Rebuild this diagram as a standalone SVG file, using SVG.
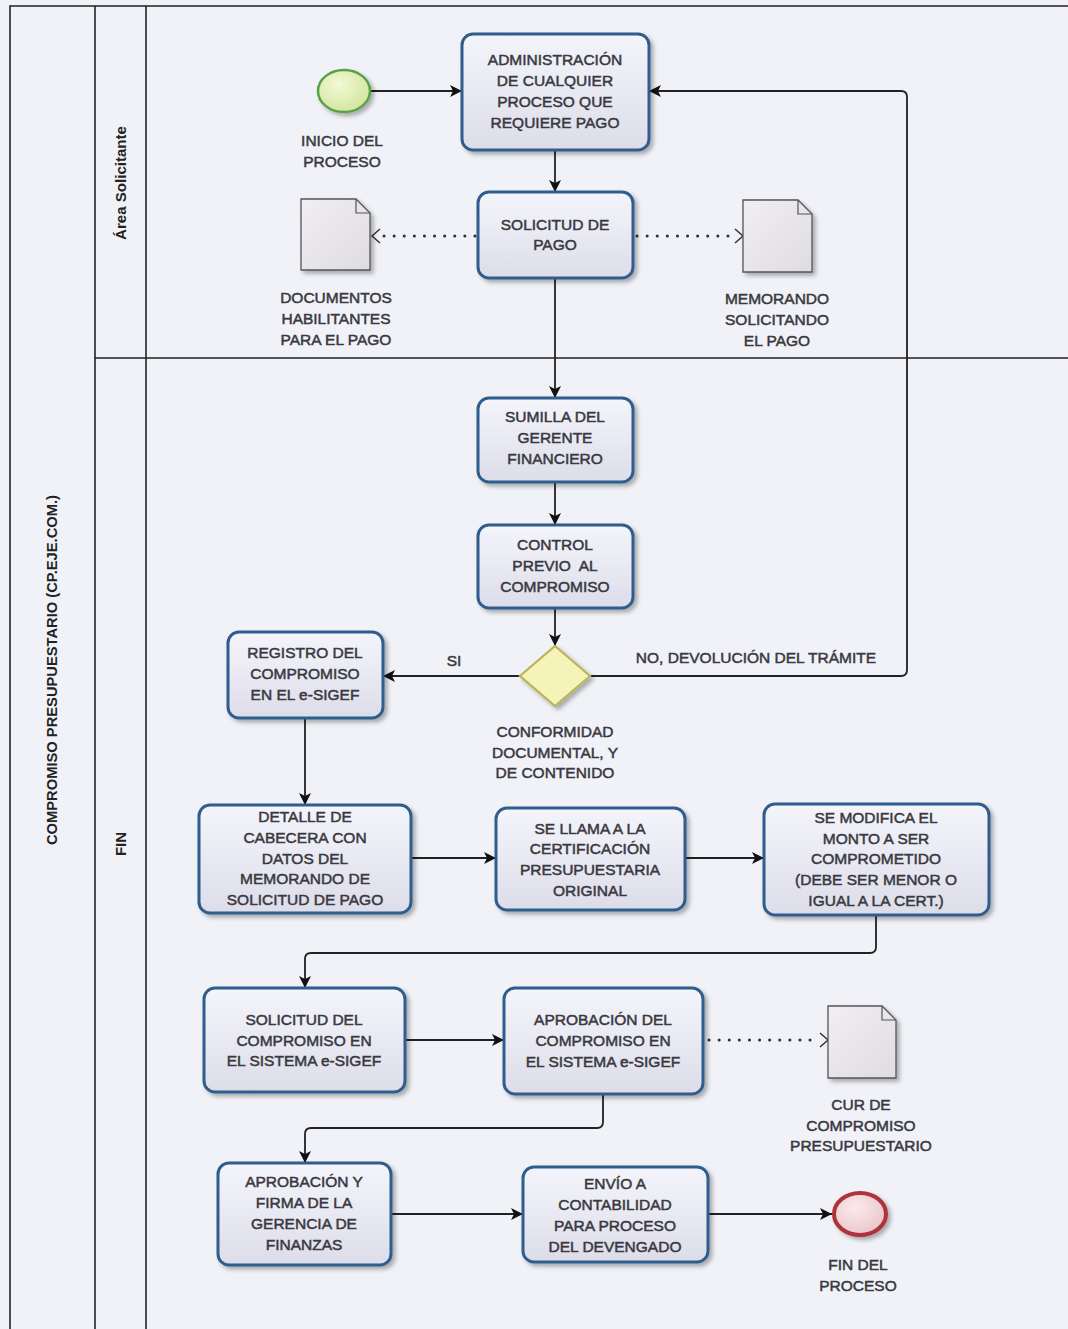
<svg xmlns="http://www.w3.org/2000/svg" width="1068" height="1329" viewBox="0 0 1068 1329">
<defs>
<linearGradient id="tg" x1="0" y1="0" x2="0" y2="1"><stop offset="0" stop-color="#f4f5fb"/><stop offset="1" stop-color="#dcdde9"/></linearGradient>
<linearGradient id="dg" x1="0" y1="0" x2="1" y2="1"><stop offset="0" stop-color="#f2eff3"/><stop offset="1" stop-color="#dedbe2"/></linearGradient>
<radialGradient id="sg" cx="0.4" cy="0.35" r="0.7"><stop offset="0" stop-color="#f4f9d8"/><stop offset="1" stop-color="#cfe59a"/></radialGradient>
<radialGradient id="eg" cx="0.4" cy="0.35" r="0.7"><stop offset="0" stop-color="#fbeaec"/><stop offset="1" stop-color="#e9c4c8"/></radialGradient>
<filter id="sh" x="-10%" y="-10%" width="130%" height="130%"><feDropShadow dx="3" dy="3" stdDeviation="2" flood-color="#000" flood-opacity="0.3"/></filter>
<marker id="ar" viewBox="0 0 12 12" refX="12" refY="6" markerWidth="12" markerHeight="12" markerUnits="userSpaceOnUse" orient="auto"><path d="M0,0 L12,6 L0,12 L3,6 Z" fill="#111"/></marker>
<style>
.t{font-family:"Liberation Sans",Arial,sans-serif;font-size:15.5px;fill:#3a3840;text-anchor:middle;stroke:#3a3840;stroke-width:0.5}
.task{fill:url(#tg);stroke:#2f5d8e;stroke-width:3;filter:url(#sh)}
.doc{fill:url(#dg);stroke:#555;stroke-width:1.3;filter:url(#sh)}
.ln{fill:none;stroke:#222;stroke-width:1.6}
.fl{fill:none;stroke:#222;stroke-width:1.8;marker-end:url(#ar)}
.dt{fill:none;stroke:#333;stroke-width:3;stroke-dasharray:0.1 10;stroke-linecap:round}
.ch{fill:none;stroke:#333;stroke-width:1.5}
.lb{font-family:"Liberation Sans",Arial,sans-serif;font-weight:bold;fill:#222;text-anchor:middle}
</style>
</defs>
<rect width="1068" height="1329" fill="#f0f2f7"/>
<g id="pool">
<path class="ln" d="M10,1329 V6 H1068 M95,6 V1329 M146,6 V1329 M95,358 H1068"/>
<text class="lb" font-size="15" transform="translate(57,670) rotate(-90)" textLength="350" lengthAdjust="spacingAndGlyphs">COMPROMISO PRESUPUESTARIO (CP.EJE.COM.)</text>
<text class="lb" font-size="15" transform="translate(126,183) rotate(-90)" textLength="114" lengthAdjust="spacingAndGlyphs">Área Solicitante</text>
<text class="lb" font-size="15" transform="translate(126,844) rotate(-90)">FIN</text>
</g>
<g id="connectors">
<path class="fl" d="M371,91 H462"/>
<path class="fl" d="M555,150 V192"/>
<path class="fl" d="M555,278 V398"/>
<path class="fl" d="M555,482 V525"/>
<path class="fl" d="M555,608 V646"/>
<path class="fl" d="M520,676 H383"/>
<path class="fl" d="M590,676 H901 Q907,676 907,670 V97 Q907,91 901,91 H649"/>
<path class="fl" d="M305,718 V805"/>
<path class="fl" d="M411,858 H496"/>
<path class="fl" d="M685,858 H764"/>
<path class="fl" d="M876,915 V947 Q876,953 870,953 H311 Q305,953 305,959 V988"/>
<path class="fl" d="M405,1040 H504"/>
<path class="fl" d="M603,1094 V1122 Q603,1128 597,1128 H311 Q305,1128 305,1134 V1163"/>
<path class="fl" d="M391,1214 H523"/>
<path class="fl" d="M708,1214 H832"/>
<path class="dt" d="M475,236 H378"/>
<path class="ch" d="M380,229 L372,236 L380,243"/>
<path class="dt" d="M637,236 H736"/>
<path class="ch" d="M735,229 L743,236 L735,243"/>
<path class="dt" d="M709,1040 H820"/>
<path class="ch" d="M820,1033 L828,1040 L820,1047"/>
<text class="t" x="454" y="666">SI</text>
<text class="t" x="756" y="663">NO, DEVOLUCIÓN DEL TRÁMITE</text>
</g>
<g id="start">
<ellipse cx="344" cy="91" rx="26" ry="21" fill="url(#sg)" stroke="#5aa04a" stroke-width="2.5" filter="url(#sh)"/>
<text class="t" x="342" y="146">INICIO DEL</text><text class="t" x="342" y="167">PROCESO</text>
</g>
<g id="t1">
<rect class="task" x="462" y="34" width="187" height="116" rx="11"/>
<text class="t" x="555" y="65">ADMINISTRACIÓN</text><text class="t" x="555" y="86">DE CUALQUIER</text><text class="t" x="555" y="107">PROCESO QUE</text><text class="t" x="555" y="128">REQUIERE PAGO</text>
</g>
<g id="t2">
<rect class="task" x="478" y="192" width="155" height="86" rx="11"/>
<text class="t" x="555" y="230">SOLICITUD DE</text><text class="t" x="555" y="250">PAGO</text>
</g>
<g id="d1">
<path class="doc" d="M301,199 H356 L370,213 V270 H301 Z"/>
<path d="M356,199 V213 H370" fill="none" stroke="#555" stroke-width="1.2"/>
<text class="t" x="336" y="303">DOCUMENTOS</text><text class="t" x="336" y="324">HABILITANTES</text><text class="t" x="336" y="345">PARA EL PAGO</text>
</g>
<g id="d2">
<path class="doc" d="M743,200 H798 L812,214 V272 H743 Z"/>
<path d="M798,200 V214 H812" fill="none" stroke="#555" stroke-width="1.2"/>
<text class="t" x="777" y="304">MEMORANDO</text><text class="t" x="777" y="325">SOLICITANDO</text><text class="t" x="777" y="346">EL PAGO</text>
</g>
<g id="t3">
<rect class="task" x="478" y="398" width="155" height="84" rx="11"/>
<text class="t" x="555" y="422">SUMILLA DEL</text><text class="t" x="555" y="443">GERENTE</text><text class="t" x="555" y="464">FINANCIERO</text>
</g>
<g id="t4">
<rect class="task" x="478" y="525" width="155" height="83" rx="11"/>
<text class="t" x="555" y="550">CONTROL</text><text class="t" x="555" y="571" xml:space="preserve">PREVIO  AL</text><text class="t" x="555" y="592">COMPROMISO</text>
</g>
<g id="gw">
<path d="M555,646 L590,676 L555,706 L520,676 Z" fill="#f6f3b8" stroke="#b8b458" stroke-width="2.2" filter="url(#sh)"/>
<text class="t" x="555" y="737">CONFORMIDAD</text><text class="t" x="555" y="758">DOCUMENTAL, Y</text><text class="t" x="555" y="778">DE CONTENIDO</text>
</g>
<g id="t5">
<rect class="task" x="228" y="632" width="155" height="86" rx="11"/>
<text class="t" x="305" y="658">REGISTRO DEL</text><text class="t" x="305" y="679">COMPROMISO</text><text class="t" x="305" y="700">EN EL e-SIGEF</text>
</g>
<g id="t6">
<rect class="task" x="199" y="805" width="212" height="108" rx="11"/>
<text class="t" x="305" y="822">DETALLE DE</text><text class="t" x="305" y="843">CABECERA CON</text><text class="t" x="305" y="864">DATOS DEL</text><text class="t" x="305" y="884">MEMORANDO DE</text><text class="t" x="305" y="905">SOLICITUD DE PAGO</text>
</g>
<g id="t7">
<rect class="task" x="496" y="808" width="189" height="102" rx="11"/>
<text class="t" x="590" y="834">SE LLAMA A LA</text><text class="t" x="590" y="854">CERTIFICACIÓN</text><text class="t" x="590" y="875">PRESUPUESTARIA</text><text class="t" x="590" y="896">ORIGINAL</text>
</g>
<g id="t8">
<rect class="task" x="764" y="804" width="225" height="111" rx="11"/>
<text class="t" x="876" y="823">SE MODIFICA EL</text><text class="t" x="876" y="844">MONTO A SER</text><text class="t" x="876" y="864">COMPROMETIDO</text><text class="t" x="876" y="885">(DEBE SER MENOR O</text><text class="t" x="876" y="906">IGUAL A LA CERT.)</text>
</g>
<g id="t9">
<rect class="task" x="204" y="988" width="201" height="104" rx="11"/>
<text class="t" x="304" y="1025">SOLICITUD DEL</text><text class="t" x="304" y="1046">COMPROMISO EN</text><text class="t" x="304" y="1066">EL SISTEMA e-SIGEF</text>
</g>
<g id="t10">
<rect class="task" x="504" y="988" width="199" height="106" rx="11"/>
<text class="t" x="603" y="1025">APROBACIÓN DEL</text><text class="t" x="603" y="1046">COMPROMISO EN</text><text class="t" x="603" y="1067">EL SISTEMA e-SIGEF</text>
</g>
<g id="d3">
<path class="doc" d="M828,1006 H882 L896,1020 V1078 H828 Z"/>
<path d="M882,1006 V1020 H896" fill="none" stroke="#555" stroke-width="1.2"/>
<text class="t" x="861" y="1110">CUR DE</text><text class="t" x="861" y="1131">COMPROMISO</text><text class="t" x="861" y="1151">PRESUPUESTARIO</text>
</g>
<g id="t11">
<rect class="task" x="218" y="1163" width="173" height="102" rx="11"/>
<text class="t" x="304" y="1187">APROBACIÓN Y</text><text class="t" x="304" y="1208">FIRMA DE LA</text><text class="t" x="304" y="1229">GERENCIA DE</text><text class="t" x="304" y="1250">FINANZAS</text>
</g>
<g id="t12">
<rect class="task" x="523" y="1167" width="185" height="95" rx="11"/>
<text class="t" x="615" y="1189">ENVÍO A</text><text class="t" x="615" y="1210">CONTABILIDAD</text><text class="t" x="615" y="1231">PARA PROCESO</text><text class="t" x="615" y="1252">DEL DEVENGADO</text>
</g>
<g id="end">
<ellipse cx="860" cy="1214" rx="26" ry="21" fill="url(#eg)" stroke="#b0303a" stroke-width="4" filter="url(#sh)"/>
<text class="t" x="858" y="1270">FIN DEL</text><text class="t" x="858" y="1291">PROCESO</text>
</g>
</svg>
